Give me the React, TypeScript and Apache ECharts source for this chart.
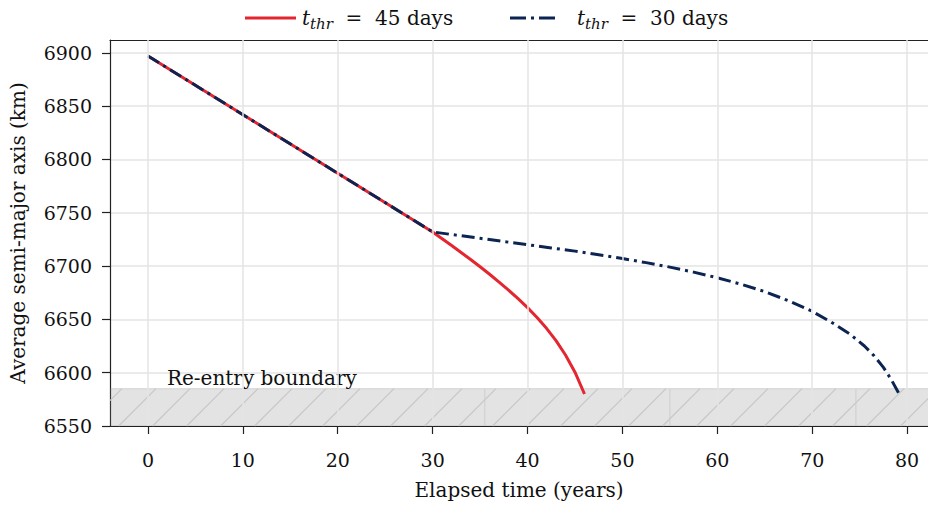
import React, { useEffect, useRef } from "react";
import * as echarts from "echarts";

// Orbit decay: average semi-major axis (km) against elapsed time (years)
const years45 = [0, 30, 31, 32, 33, 34, 35, 36, 37, 38, 39, 40, 41, 42, 43, 44, 45, 46];
const sma45 = [
  6897, 6732, 6725.6, 6719.2, 6712.7, 6706.1, 6699.3, 6692.3, 6685.0, 6677.4, 6669.4, 6661.0,
  6651.8, 6641.6, 6630.0, 6616.6, 6600.5, 6580,
];

const years30 = [
  0, 30, 32.5, 35, 37.5, 40, 42.5, 45, 47.5, 50, 52.5, 55, 57.5, 60, 62.5, 65, 67.5, 70, 72, 74,
  75.5, 76.5, 77.5, 78.3, 79.1,
];
const sma30 = [
  6897, 6732, 6729, 6726, 6723, 6720, 6717, 6714, 6710.6, 6707, 6703.2, 6699, 6694.3, 6689, 6683,
  6676, 6667.5, 6657.5, 6647.5, 6636, 6625, 6616, 6605, 6594, 6581,
];

const label45 = "45 days";
const label30 = "30 days";

// Axis ranges and ticks
const xRange = [-4, 82.2];
const yRange = [6550, 6912];
const xTicks = [0, 10, 20, 30, 40, 50, 60, 70, 80];
const yTicks = [6550, 6600, 6650, 6700, 6750, 6800, 6850, 6900];

// Re-entry band (semi-major axis floor .. boundary)
const reentryBoundary = 6585;
const reentryLabel = "Re-entry boundary";
const reentryLabelYear = 2;
const hatchSeamYears = [35.5, 55.0, 74.6];

const FONT = "DejaVu Serif";
const RED = "#e3262f";
const NAVY = "#0c2452";
const INK = "#111111";

const legendRich = {
  it: { fontFamily: FONT, fontStyle: "italic", fontSize: 20, lineHeight: 26, fill: INK, color: INK },
  sub: {
    fontFamily: FONT,
    fontStyle: "italic",
    fontSize: 15,
    lineHeight: 15,
    verticalAlign: "bottom",
    fill: INK,
    color: INK,
  },
  n: { fontFamily: FONT, fontSize: 20, lineHeight: 26, fill: INK, color: INK },
};

const legendText = (days: string) => `{it|t}{sub|thr}{n|  =  ${days}}`;

export default function App() {
  const ref = useRef<HTMLDivElement>(null);

  useEffect(() => {
    if (!ref.current) return;
    const chart = echarts.init(ref.current, undefined, { renderer: "svg" });

    const line45 = years45.map((x, i) => [x, sma45[i]]);
    const line30 = years30.map((x, i) => [x, sma30[i]]);

    const hatchStep = 34;
    const legendY = 18;

    const option: any = {
      animation: false,
      backgroundColor: "#ffffff",
      textStyle: { fontFamily: FONT },
      grid: { left: 110, right: 0, top: 40, bottom: 74, containLabel: false },
      graphic: [
        {
          type: "line",
          shape: { x1: 245, y1: legendY, x2: 296, y2: legendY },
          style: { stroke: RED, lineWidth: 3 },
        },
        {
          type: "text",
          x: 302,
          y: legendY,
          style: { text: legendText(label45), rich: legendRich, verticalAlign: "middle" },
        },
        {
          type: "line",
          shape: { x1: 510, y1: legendY, x2: 556, y2: legendY },
          style: { stroke: NAVY, lineWidth: 3, lineDash: [16, 5, 3, 5], lineCap: "butt" },
        },
        {
          type: "text",
          x: 577,
          y: legendY,
          style: { text: legendText(label30), rich: legendRich, verticalAlign: "middle" },
        },
      ],
      xAxis: [
        {
          type: "value",
          min: xRange[0],
          max: xRange[1],
          name: "Elapsed time (years)",
          nameLocation: "middle",
          nameGap: 54,
          nameTextStyle: { fontFamily: FONT, fontSize: 20, color: INK },
          axisLine: { show: true, onZero: false, lineStyle: { color: "#222", width: 1.2 } },
          axisTick: {
            show: true,
            length: 8,
            customValues: xTicks,
            lineStyle: { color: "#222", width: 1.2 },
          },
          axisLabel: {
            customValues: xTicks,
            margin: 24,
            fontFamily: FONT,
            fontSize: 19,
            color: INK,
          },
          splitLine: { show: false },
        },
        {
          type: "value",
          position: "top",
          min: xRange[0],
          max: xRange[1],
          axisLine: { show: true, onZero: false, lineStyle: { color: "#222", width: 1.2 } },
          axisTick: { show: false },
          axisLabel: { show: false },
          splitLine: { show: false },
        },
      ],
      yAxis: {
        type: "value",
        min: yRange[0],
        max: yRange[1],
        interval: 50,
        name: "Average semi-major axis (km)",
        nameLocation: "middle",
        nameGap: 82,
        nameTextStyle: { fontFamily: FONT, fontSize: 20, color: INK },
        axisLine: { show: true, onZero: false, lineStyle: { color: "#222", width: 1.2 } },
        axisTick: {
          show: true,
          length: 8,
          customValues: yTicks,
          lineStyle: { color: "#222", width: 1.2 },
        },
        axisLabel: {
          customValues: yTicks,
          margin: 18,
          fontFamily: FONT,
          fontSize: 19,
          color: INK,
          formatter: (v: number) => String(v),
        },
        splitLine: { show: true, lineStyle: { color: "#e4e4e4", width: 1.5 } },
      },
      series: [
        {
          // vertical grid lines at the x ticks
          type: "line",
          data: [],
          silent: true,
          z: 1,
          markLine: {
            silent: true,
            symbol: "none",
            label: { show: false },
            lineStyle: { color: "#e4e4e4", width: 1.5, type: "solid" },
            data: xTicks.map((v) => ({ xAxis: v })),
          },
        },
        {
          type: "custom",
          silent: true,
          z: 2,
          encode: { x: [0, 1], y: [2, 3] },
          data: [[xRange[0], xRange[1], yRange[0], reentryBoundary]],
          renderItem: (params: any, api: any) => {
            const bl = api.coord([api.value(0), api.value(2)]);
            const tr = api.coord([api.value(1), api.value(3)]);
            const cs = params.coordSys;
            const left = Math.max(bl[0], cs.x);
            const right = Math.min(tr[0], cs.x + cs.width);
            const top = tr[1];
            const bottom = Math.min(bl[1], cs.y + cs.height);
            const h = bottom - top;
            const children: any[] = [
              {
                type: "rect",
                shape: { x: left, y: top, width: right - left, height: h },
                style: { fill: "rgba(128,128,128,0.22)" },
              },
              {
                type: "line",
                shape: { x1: left, y1: top, x2: right, y2: top },
                style: { stroke: "rgba(140,140,140,0.3)", lineWidth: 1 },
              },
            ];
            for (let xb = left - h + 12; xb < right; xb += hatchStep) {
              let x1 = xb;
              let y1 = bottom;
              let x2 = xb + h;
              let y2 = top;
              if (x1 < left) {
                y1 = bottom - (left - x1);
                x1 = left;
              }
              if (x2 > right) {
                y2 = top + (x2 - right);
                x2 = right;
              }
              if (x2 <= x1) continue;
              children.push({
                type: "line",
                shape: { x1, y1, x2, y2 },
                style: { stroke: "#c8c8c8", lineWidth: 1.2 },
              });
            }
            hatchSeamYears.forEach((yr) => {
              const px = api.coord([yr, yRange[0]])[0];
              children.push({
                type: "line",
                shape: { x1: px, y1: top, x2: px, y2: bottom },
                style: { stroke: "#cdcdcd", lineWidth: 1 },
              });
            });
            const lp = api.coord([reentryLabelYear, reentryBoundary]);
            children.push({
              type: "text",
              x: lp[0],
              y: lp[1] - 1,
              style: {
                text: reentryLabel,
                fontFamily: FONT,
                fontSize: 20,
                fill: INK,
                align: "left",
                verticalAlign: "bottom",
              },
            });
            return { type: "group", children };
          },
        },
        {
          name: "t_thr = 45 days",
          type: "line",
          data: line45,
          z: 3,
          showSymbol: false,
          symbol: "none",
          lineStyle: { color: RED, width: 3 },
          itemStyle: { color: RED },
        },
        {
          name: "t_thr = 30 days",
          type: "line",
          data: line30,
          z: 4,
          showSymbol: false,
          symbol: "none",
          lineStyle: { color: NAVY, width: 3, type: [13, 5, 3, 5], cap: "butt" },
          itemStyle: { color: NAVY },
        },
      ],
    };

    chart.setOption(option);
    return () => chart.dispose();
  }, []);

  return <div ref={ref} style={{ width: 928, height: 505, position: "absolute", left: 0, top: 0 }} />;
}
